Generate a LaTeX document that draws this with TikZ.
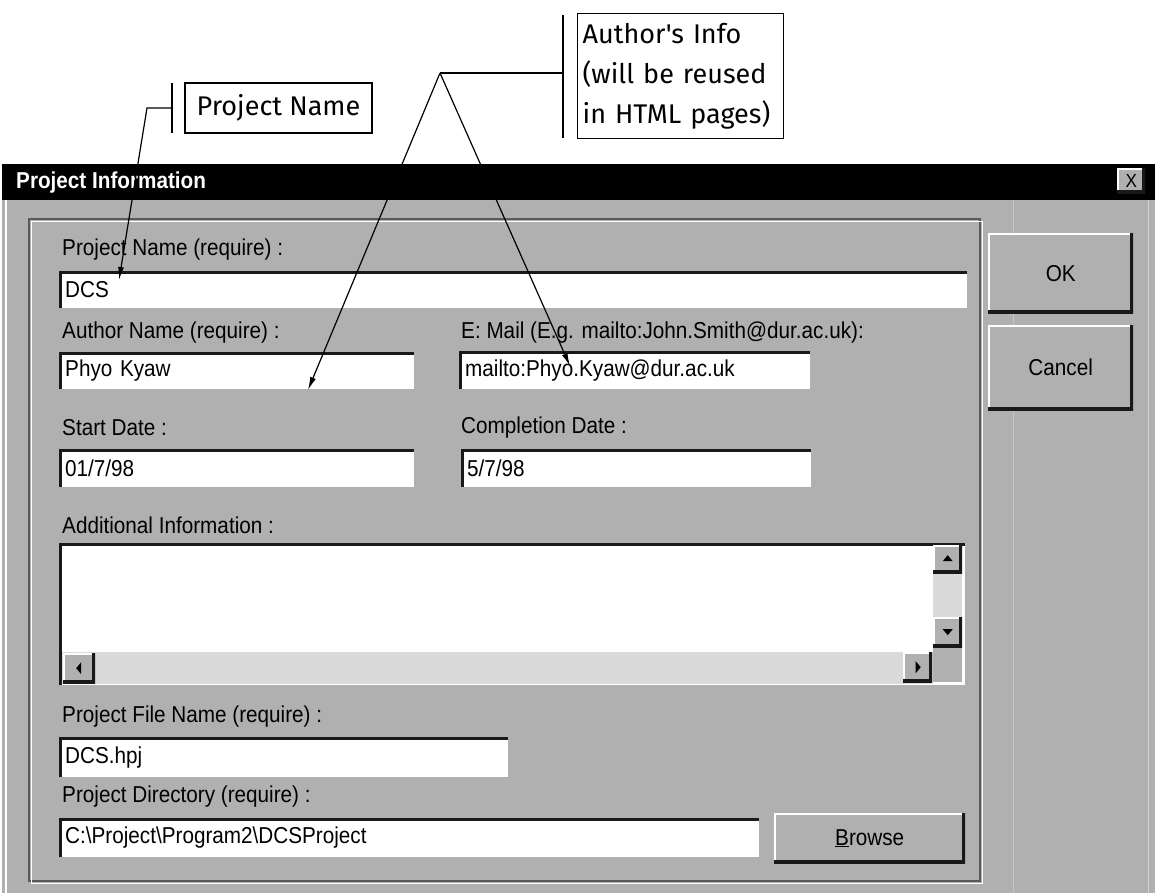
\documentclass[tikz,border=0pt]{standalone}
\usepackage{fontspec}
\setmainfont[FakeStretch=0.9]{Liberation Sans}
\newfontfamily\notefont{Fira Sans}
\usetikzlibrary{arrows.meta, positioning, calc}
\definecolor{dlggray}{RGB}{176,176,176}
\definecolor{edgedark}{RGB}{25,25,25}
\definecolor{edgemid}{RGB}{90,90,90}
\definecolor{trackgray}{RGB}{218,218,218}
\tikzset{
    dlgtext/.style = {font=\fontsize{23}{26}\selectfont},
    field/.style = {rectangle, fill=white, anchor=north west, inner xsep=6pt, inner ysep=0pt, text width=#1, align=left, minimum height=38pt, dlgtext,
        path picture={\draw[line width=5pt, edgedark] (path picture bounding box.south west) -- (path picture bounding box.north west) -- (path picture bounding box.north east);}},
    button/.style = {rectangle, fill=dlggray, anchor=north west, inner sep=0pt, dlgtext,
        path picture={\draw[line width=4pt, white] (path picture bounding box.south west) -- (path picture bounding box.north west) -- (path picture bounding box.north east);
                      \draw[line width=6pt, edgedark] (path picture bounding box.north east) -- (path picture bounding box.south east) -- (path picture bounding box.south west);}},
    fieldcaption/.style = {anchor=west, inner sep=0pt, dlgtext},
    note/.style = {rectangle, draw, line width=1.4pt, fill=white, font=\notefont\fontsize{27}{40}\selectfont},
    leader/.style = {draw, line width=1.2pt},
    pointer/.style = {draw, line width=1.2pt, -{Latex[length=13pt,width=6pt]}}
}

\begin{document}
\begin{tikzpicture}[x=1pt, y=-1pt]
    \useasboundingbox (0,0) rectangle (1155,893);
    \fill[white] (0,0) rectangle (1155,893);

    % --- DIALOG FRAME ---
    \fill[dlggray] (2,164) rectangle (1155,893);
    \fill[black] (2,164) rectangle (1155,200);
    \draw[white, line width=1.5pt] (6,200) -- (6,893);
    \draw[gray!45!white, line width=1pt] (1013,200) -- (1013,893);
    \draw[gray!35!white, line width=1pt] (1148,200) -- (1148,893);
    \node[anchor=west, inner sep=0pt, text=white, font=\bfseries\fontsize{23}{26}\selectfont] (title) at (16,183) {Project Information};
    \node[button, minimum width=28pt, minimum height=25pt, font=\fontsize{19}{20}\selectfont] (closebtn) at (1117,168) {X};

    % group box
    \draw[edgemid, line width=1.5pt] (29,219) rectangle (980,881);
    \draw[white, line width=1.5pt] (31.5,221.5) rectangle (982.5,883.5);

    % --- BUTTONS ---
    \node[button, minimum width=145pt, minimum height=80pt] (okbtn) at (988,233) {OK};
    \node[button, minimum width=145pt, minimum height=85pt] (cancelbtn) at (988,325) {Cancel};
    \node[button, minimum width=191pt, minimum height=50pt] (browsebtn) at (774,813) {\underline{B}rowse};

    % --- LABELS ---
    \node[fieldcaption] (pnlabel) at (62,250) {Project Name (require) :};
    \node[fieldcaption] (authlabel) at (62,333) {Author Name (require) :};
    \node[fieldcaption] (maillabel) at (461,333) {E: Mail (E.g. mailto:John.Smith@dur.ac.uk):};
    \node[fieldcaption] (startlabel) at (62,428) {Start Date :};
    \node[fieldcaption] (compllabel) at (461,428) {Completion Date :};
    \node[fieldcaption] (infolabel) at (62,525) {Additional Information :};
    \node[fieldcaption] (filelabel) at (62,717) {Project File Name (require) :};
    \node[fieldcaption] (dirlabel) at (62,797) {Project Directory (require) :};

    % --- FIELDS ---
    \node[field=896pt, minimum height=37pt] (pnfield) at (59,271) {DCS};
    \node[field=343pt, minimum height=37pt] (authfield) at (59,352) {Phyo Kyaw};
    \node[field=339pt, minimum height=38pt] (mailfield) at (459,351) {mailto:Phyo.Kyaw@dur.ac.uk};
    \node[field=343pt] (startfield) at (59,449) {01/7/98};
    \node[field=338pt] (complfield) at (461,449) {5/7/98};
    \node[field=437pt, minimum height=40pt] (filefield) at (59,737) {DCS.hpj};
    \node[field=688pt, minimum height=39pt] (dirfield) at (59,818) {C:\textbackslash Project\textbackslash Program2\textbackslash DCSProject};

    % text area with scroll bars
    \node[field=894pt, minimum height=142pt] (infofield) at (59,543) {};
    \fill[trackgray] (933,573) rectangle (962,617);
    \fill[trackgray] (62,652) rectangle (933,684);
    \fill[dlggray] (933,648) rectangle (962,682);
    \node[button, minimum width=29pt, minimum height=28pt] (upbtn) at (933,545) {};
    \node[button, minimum width=29pt, minimum height=30pt] (downbtn) at (933,617) {};
    \node[button, minimum width=32pt, minimum height=30pt] (leftbtn) at (63,653) {};
    \node[button, minimum width=29pt, minimum height=30pt] (rightbtn) at (903,652) {};
    \fill (upbtn.center) ++(-5pt,-2pt) -- ++(10pt,0pt) -- ++(-5pt,6pt) -- cycle;
    \fill (downbtn.center) ++(-5pt,3pt) -- ++(10pt,0pt) -- ++(-5pt,-6pt) -- cycle;
    \fill (leftbtn.center) ++(2pt,-6pt) -- ++(0pt,12pt) -- ++(-5pt,-6pt) -- cycle;
    \fill (rightbtn.center) ++(-2pt,-6pt) -- ++(0pt,12pt) -- ++(5pt,-6pt) -- cycle;

    % --- CALLOUTS ---
    \node[note, minimum width=187pt, minimum height=50pt] (pnnote) at (278.5,108) {Project Name};
    \node[note, anchor=north west, text width=196pt, align=left, inner sep=5pt, minimum height=125pt] (ainote) at (577,13) {Author's Info\\(will be reused\\in HTML pages)};

    \coordinate (pnbartop) at (172,83);
    \coordinate (pnbarbot) at (172,133);
    \coordinate (pnbarmid) at ($(pnbartop)!0.5!(pnbarbot)$);
    \coordinate (pnbend) at (147,108);
    \coordinate (pntip) at (119,280);

    \coordinate (aibartop) at (563,15);
    \coordinate (aibarbot) at (563,138);
    \coordinate (aibarmid) at (563,73);
    \coordinate (aiapex) at (440,73);
    \coordinate (authortip) at (308,390);
    \coordinate (mailtip) at (570,366);

    % --- PATHS ---
    \path[leader] (pnbartop) -- (pnbarbot);
    \path[pointer] (pnbarmid) -- (pnbend) -- (pntip);

    \path[leader] (aibartop) -- (aibarbot);
    \path[leader] (aibarmid) -- (aiapex);
    \path[pointer] (aiapex) -- (authortip);
    \path[pointer] (aiapex) -- (mailtip);
\end{tikzpicture}
\end{document}
